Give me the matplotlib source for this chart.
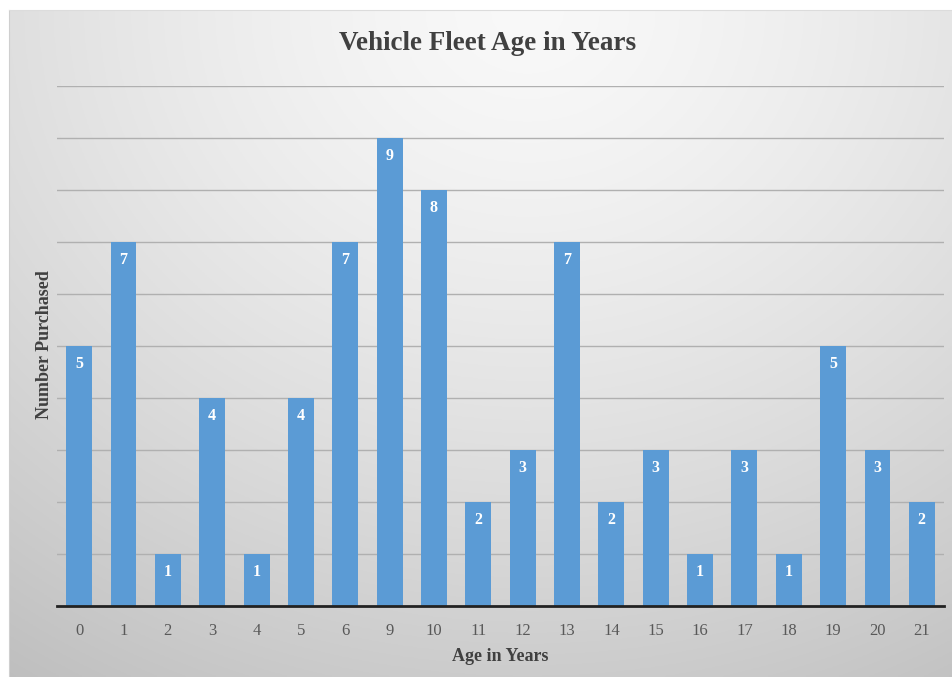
import numpy as np
import matplotlib
matplotlib.use("Agg")
from matplotlib import pyplot as plt

ages = ["0", "1", "2", "3", "4", "5", "6", "9", "10", "11", "12", "13", "14", "15", "16", "17", "18", "19", "20", "21"]
counts = [5, 7, 1, 4, 1, 4, 7, 9, 8, 2, 3, 7, 2, 3, 1, 3, 1, 5, 3, 2]

W, H = 952, 677
fig = plt.figure(figsize=(W / 100, H / 100), dpi=100)
fig.patch.set_facecolor("white")

# chart area background: soft radial gradient, light at top centre
bx0, by1 = 9 / W, 1 - 10 / H
bg = fig.add_axes([bx0, 0, 1 - bx0, by1])
gx, gy = np.meshgrid(np.linspace(0, 1, 400), np.linspace(0, 1, 300))
r = np.sqrt(((gx - 0.55) / 0.9) ** 2 + ((gy - 0.0) / 1.1) ** 2)
shade = 0.975 - 0.2 * np.clip(r, 0, 1.2) ** 1.4
bg.imshow(np.dstack([shade] * 3), extent=[0, 1, 0, 1], aspect="auto", origin="upper")
bg.set_xlim(0, 1)
bg.set_ylim(0, 1)
for s in ["bottom", "right"]:
    bg.spines[s].set_visible(False)
bg.spines["left"].set_color("#cfcfcf")
bg.spines["top"].set_color("#dcdcdc")
bg.set_xticks([])
bg.set_yticks([])

ax = fig.add_axes([57 / W, 1 - 606 / H, (944 - 57) / W, (606 - 86) / H])
ax.patch.set_alpha(0)
x = np.arange(len(ages))
ax.bar(x, counts, width=0.585, color="#5b9bd5", zorder=3)
ax.set_xlim(-0.5, len(ages) - 0.5)
ax.set_ylim(0, 10)
ax.set_yticks(range(1, 11))
ax.set_yticklabels([])
ax.tick_params(axis="y", length=0)
ax.grid(axis="y", color="#b0b0b0", linewidth=1, zorder=0)
ax.set_xticks(x)
ax.set_xticklabels(ages, fontfamily="Liberation Serif", fontsize=12, color="#595959")
ax.tick_params(axis="x", length=0, pad=12)
for s in ["top", "right", "left"]:
    ax.spines[s].set_visible(False)
ax.spines["bottom"].set_color("#222222")
ax.spines["bottom"].set_linewidth(2)
ax.spines["bottom"].set_zorder(4)

for xi, v in zip(x, counts):
    ax.annotate(str(v), (xi, v), xytext=(0, -13), textcoords="offset points",
                ha="center", va="center", color="white", fontweight="bold",
                fontfamily="Liberation Serif", fontsize=11.5, zorder=5)

ax.set_xlabel("Age in Years", fontfamily="Liberation Serif", fontweight="bold",
              fontsize=13, color="#404040", labelpad=7)
fig.text(45 / W, 1 - 345 / H, "Number Purchased", rotation=90, ha="center", va="center",
         fontfamily="Liberation Serif", fontweight="bold", fontsize=13, color="#404040")
fig.text(488 / W, 1 - 43 / H, "Vehicle Fleet Age in Years", ha="center", va="center",
         fontfamily="Liberation Serif", fontweight="bold", fontsize=19.5, color="#404040")

fig.savefig("out.png", dpi=100)
